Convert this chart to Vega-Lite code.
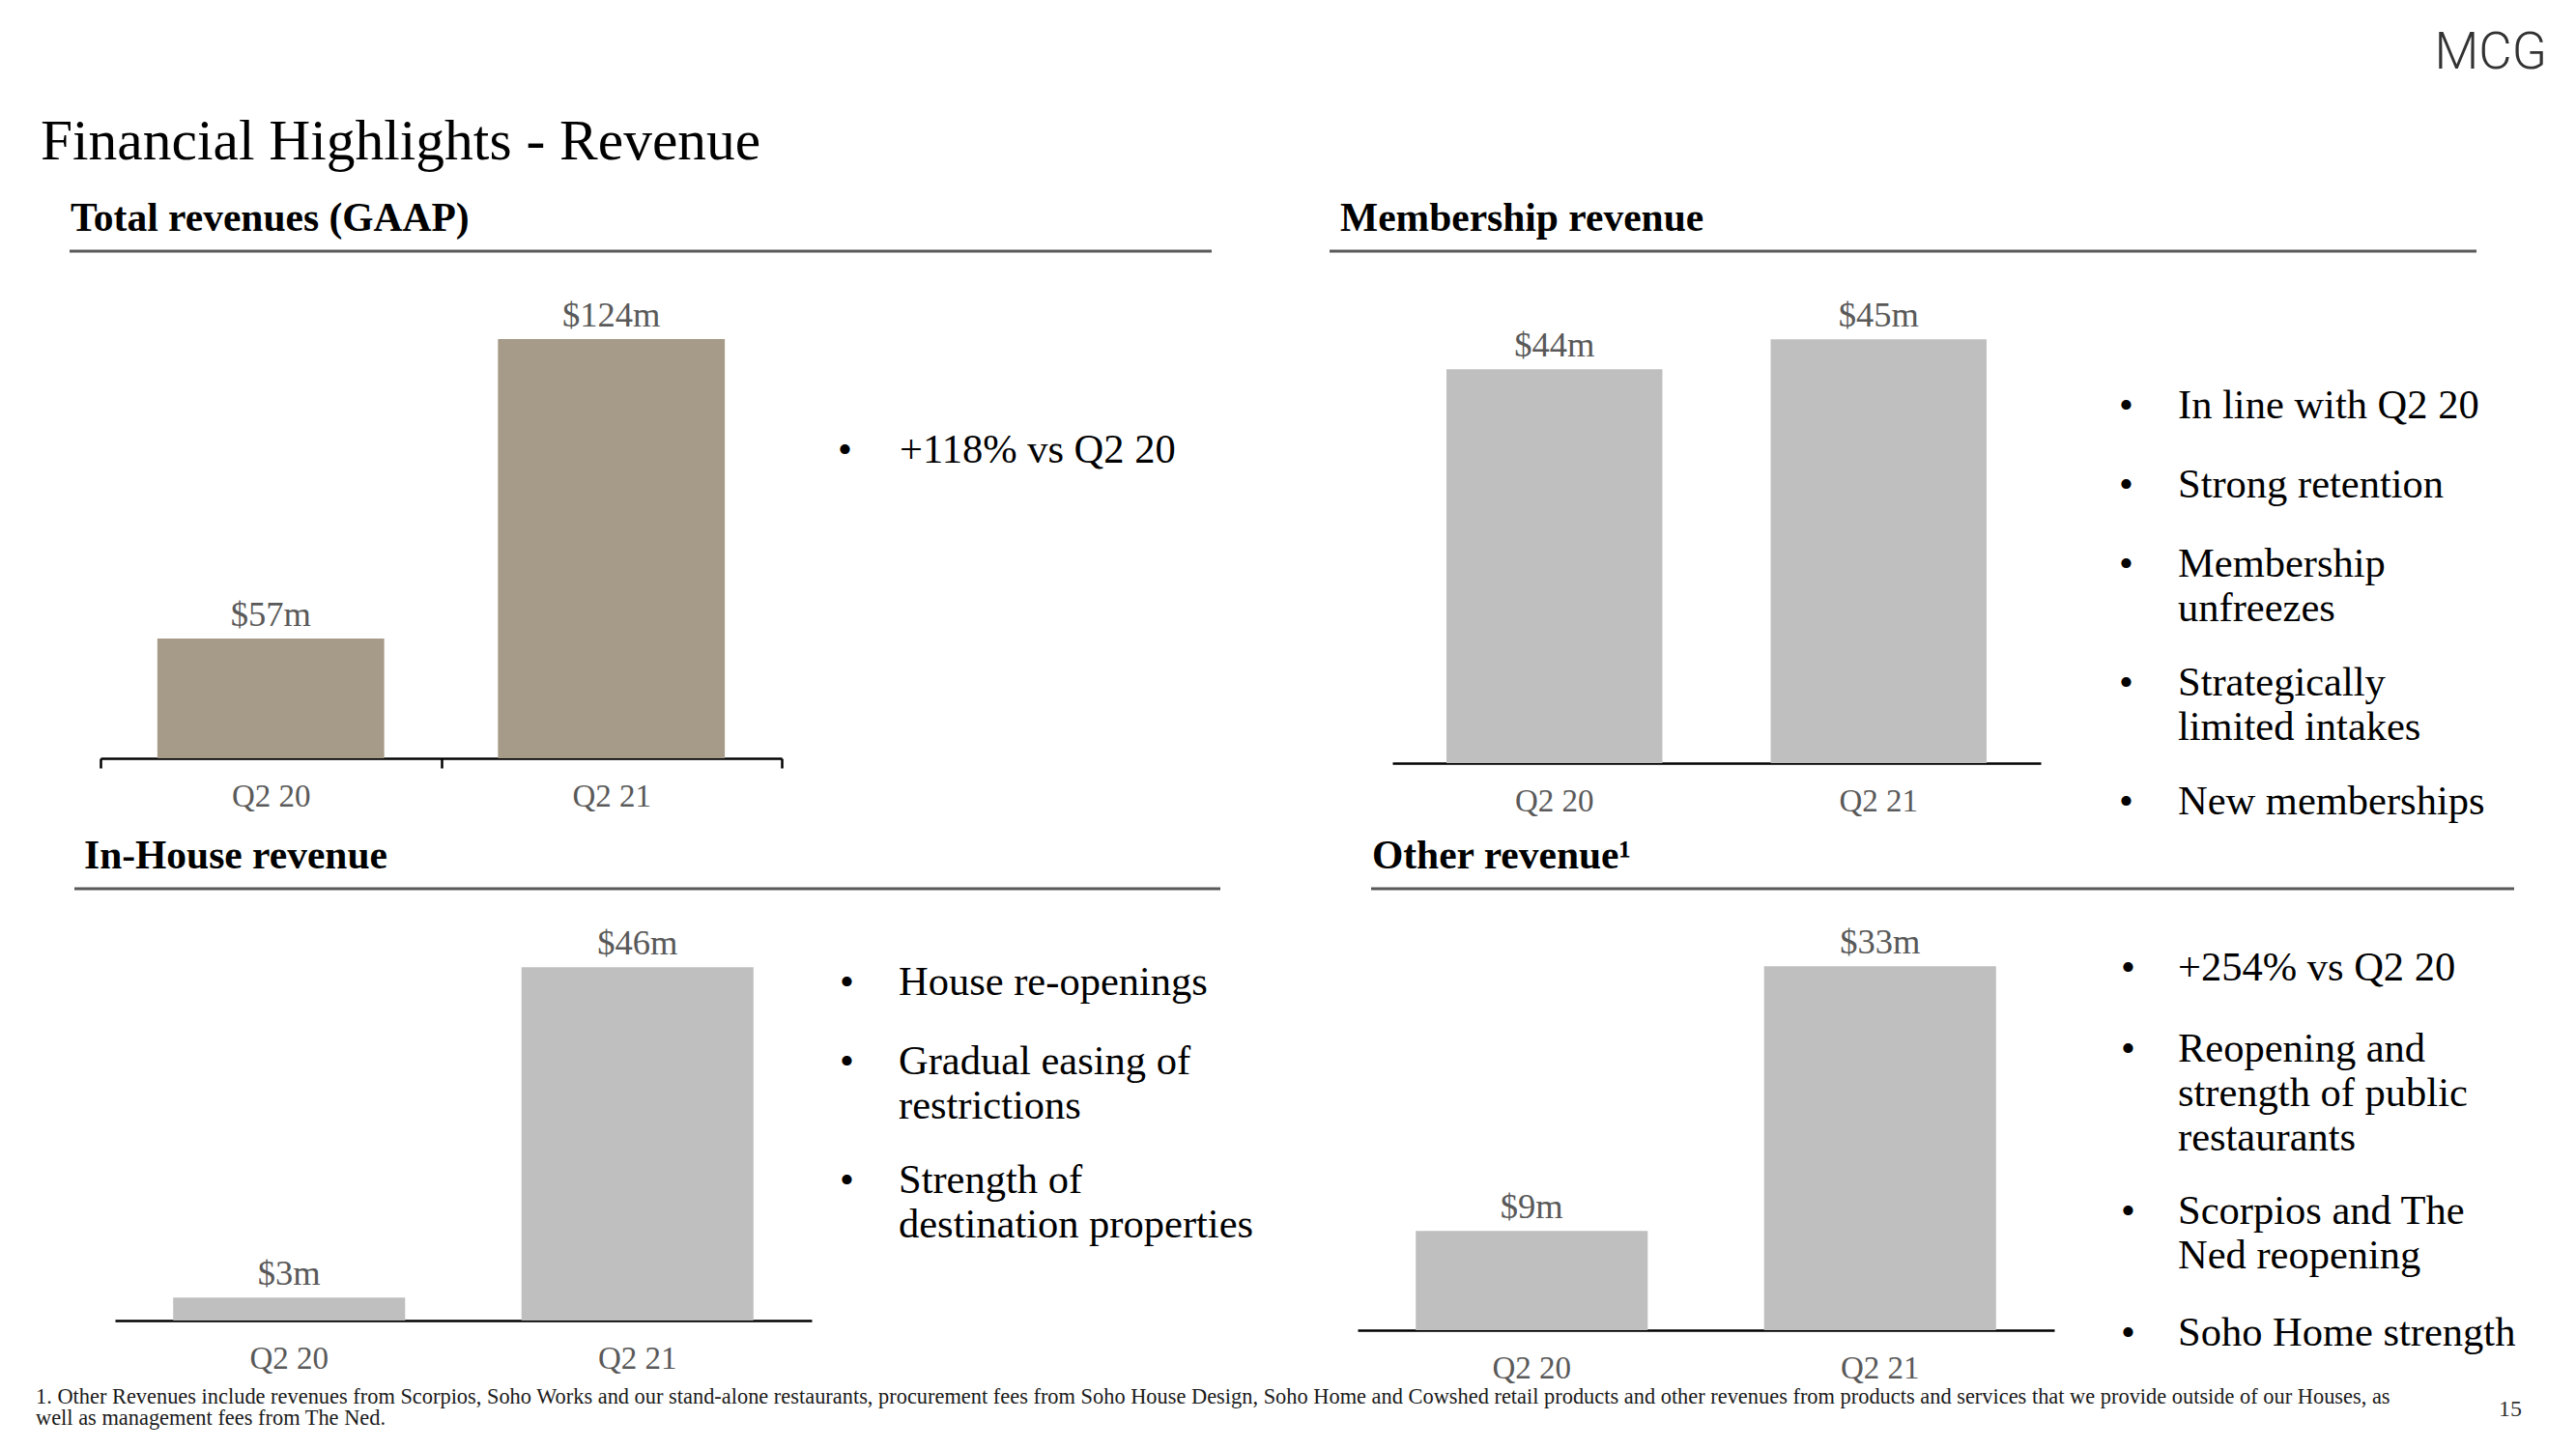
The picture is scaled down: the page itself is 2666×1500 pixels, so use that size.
{
  "$schema": "https://vega.github.io/schema/vega-lite/v6.json",
  "background": "white",
  "padding": {"top": 28.5, "left": 0, "right": 0, "bottom": 0},
  "spacing": 0,
  "config": {
    "view": {"stroke": "transparent"},
    "concat": {"spacing": 0},
    "axis": {"title": null, "grid": false, "labelAngle": 0, "labelFont": "Liberation Serif", "labelFontSize": 33, "labelColor": "#595959", "labelBaseline": "alphabetic", "domainColor": "black", "domainWidth": 2.5}
  },
  "datasets": {
    "total": [{"quarter": "Q2 20", "revenue": 57, "label": "$57m"}, {"quarter": "Q2 21", "revenue": 124, "label": "$124m"}],
    "membership": [{"quarter": "Q2 20", "revenue": 44, "label": "$44m"}, {"quarter": "Q2 21", "revenue": 45, "label": "$45m"}],
    "inhouse": [{"quarter": "Q2 20", "revenue": 3, "label": "$3m"}, {"quarter": "Q2 21", "revenue": 46, "label": "$46m"}],
    "other": [{"quarter": "Q2 20", "revenue": 9, "label": "$9m"}, {"quarter": "Q2 21", "revenue": 33, "label": "$33m"}],
    "notesA": [{"slot": "a1", "text": "+118% vs Q2 20", "bullet": "•"}],
    "notesB": [
      {"slot": "b1", "text": "In line with Q2 20", "bullet": "•"},
      {"slot": "b2", "text": "", "bullet": ""},
      {"slot": "b3", "text": "Strong retention", "bullet": "•"},
      {"slot": "b4", "text": "", "bullet": ""},
      {"slot": "b5", "text": "Membership\nunfreezes", "bullet": "•"},
      {"slot": "b6", "text": "", "bullet": ""},
      {"slot": "b7", "text": "", "bullet": ""},
      {"slot": "b8", "text": "Strategically\nlimited intakes", "bullet": "•"},
      {"slot": "b9", "text": "", "bullet": ""},
      {"slot": "b10", "text": "", "bullet": ""},
      {"slot": "b11", "text": "New memberships", "bullet": "•"}
    ],
    "notesC": [
      {"slot": "c1", "text": "House re-openings", "bullet": "•"},
      {"slot": "c2", "text": "", "bullet": ""},
      {"slot": "c3", "text": "Gradual easing of\nrestrictions", "bullet": "•"},
      {"slot": "c4", "text": "", "bullet": ""},
      {"slot": "c5", "text": "", "bullet": ""},
      {"slot": "c6", "text": "Strength of\ndestination properties", "bullet": "•"}
    ],
    "notesD": [
      {"slot": "d1", "text": "+254% vs Q2 20", "bullet": "•"},
      {"slot": "d2", "text": "", "bullet": ""},
      {"slot": "d3", "text": "Reopening and\nstrength of public\nrestaurants", "bullet": "•"},
      {"slot": "d4", "text": "", "bullet": ""},
      {"slot": "d5", "text": "", "bullet": ""},
      {"slot": "d6", "text": "", "bullet": ""},
      {"slot": "d7", "text": "Scorpios and The\nNed reopening", "bullet": "•"},
      {"slot": "d8", "text": "", "bullet": ""},
      {"slot": "d9", "text": "", "bullet": ""},
      {"slot": "d10", "text": "Soho Home strength", "bullet": "•"}
    ]
  },
  "vconcat": [
    {
      "bounds": "flush", "spacing": 0,
      "hconcat": [
        {"width": 73, "height": 1, "data": {"values": []}, "mark": "text", "encoding": {},
         "title": {"text": "Financial Highlights - Revenue", "anchor": "start", "frame": "group", "dx": 42, "offset": 35, "baseline": "alphabetic", "font": "Liberation Serif", "fontSize": 59.5, "fontWeight": "normal", "color": "black"}},
        {"width": 1180, "height": 1, "view": {"stroke": "#595959", "strokeWidth": 2}, "data": {"values": []}, "mark": "text", "encoding": {},
         "title": {"text": "Total revenues (GAAP)", "anchor": "start", "frame": "group", "dx": 0, "offset": -21, "baseline": "alphabetic", "font": "Liberation Serif", "fontSize": 41.5, "fontWeight": "bold", "color": "black"}},
        {"width": 124, "height": 1, "data": {"values": []}, "mark": "text", "encoding": {}},
        {"width": 1185, "height": 1, "view": {"stroke": "#595959", "strokeWidth": 2}, "data": {"values": []}, "mark": "text", "encoding": {},
         "title": {"text": "Membership revenue", "anchor": "start", "frame": "group", "dx": 10, "offset": -21, "baseline": "alphabetic", "font": "Liberation Serif", "fontSize": 41.5, "fontWeight": "bold", "color": "black"}},
        {"width": 104, "height": 1, "data": {"values": []}, "mark": "text", "encoding": {},
         "title": {"text": "MCG", "anchor": "end", "frame": "group", "dx": -30, "offset": 136, "baseline": "alphabetic", "font": "Roboto", "fontSize": 53, "fontWeight": 300, "color": "#333333"}}
      ]
    },
    {
      "bounds": "flush", "spacing": 0,
      "hconcat": [
        {"width": 104, "height": 522.5, "data": {"values": []}, "mark": "text", "encoding": {}},
        {
          "width": 705, "height": 522.5,
          "data": {"name": "total"},
          "encoding": {
            "x": {"field": "quarter", "type": "nominal", "sort": null, "scale": {"paddingInner": 0, "paddingOuter": 0},
                  "axis": {"ticks": true, "tickBand": "extent", "tickSize": 10, "tickColor": "black", "tickWidth": 2.5, "labelPadding": 39}},
            "y": {"field": "revenue", "type": "quantitative", "scale": {"domain": [30.2, 143.1], "zero": false, "nice": false}, "axis": null}
          },
          "layer": [
            {"mark": {"type": "bar", "color": "#A69A88", "width": {"band": 0.666}}, "encoding": {"y2": {"datum": 30.2}}},
            {"mark": {"type": "text", "baseline": "middle", "dy": -24, "font": "Liberation Serif", "fontSize": 36.5, "color": "#595959"}, "encoding": {"text": {"field": "label"}}}
          ]
        },
        {
          "width": 444, "height": 522.5,
          "data": {"name": "notesA"},
          "encoding": {"y": {"field": "slot", "type": "ordinal", "sort": null, "scale": {"type": "point", "padding": 0, "align": 0}, "axis": null}},
          "layer": [
            {"mark": {"type": "text", "align": "left", "baseline": "alphabetic", "dx": -100, "dy": 216.5, "font": "Liberation Serif", "fontSize": 42.5, "color": "black"}, "encoding": {"text": {"field": "text"}}},
            {"mark": {"type": "text", "align": "left", "baseline": "alphabetic", "dx": -164, "dy": 216.5, "font": "Liberation Serif", "fontSize": 42.5, "color": "black"}, "encoding": {"text": {"field": "bullet"}}}
          ]
        },
        {"width": 188, "height": 601.5, "data": {"values": []}, "mark": "text", "encoding": {}},
        {
          "width": 671, "height": 527.5,
          "data": {"name": "membership"},
          "encoding": {
            "x": {"field": "quarter", "type": "nominal", "sort": null, "scale": {"paddingInner": 0, "paddingOuter": 0},
                  "axis": {"ticks": false, "labelPadding": 49}},
            "y": {"field": "revenue", "type": "quantitative", "scale": {"domain": [30.84, 47.86], "zero": false, "nice": false}, "axis": null}
          },
          "layer": [
            {"mark": {"type": "bar", "color": "#BFBFBF", "width": {"band": 0.666}}, "encoding": {"y2": {"datum": 30.84}}},
            {"mark": {"type": "text", "baseline": "middle", "dy": -24, "font": "Liberation Serif", "fontSize": 36.5, "color": "#595959"}, "encoding": {"text": {"field": "label"}}}
          ]
        },
        {
          "width": 450, "height": 410,
          "data": {"name": "notesB"},
          "encoding": {"y": {"field": "slot", "type": "ordinal", "sort": null, "scale": {"type": "point", "padding": 0}, "axis": null}},
          "layer": [
            {"mark": {"type": "text", "align": "left", "baseline": "alphabetic", "dx": -83, "dy": 170.5, "font": "Liberation Serif", "fontSize": 42.5, "lineBreak": "\n", "lineHeight": 46, "color": "black"}, "encoding": {"text": {"field": "text"}}},
            {"mark": {"type": "text", "align": "left", "baseline": "alphabetic", "dx": -144, "dy": 170.5, "font": "Liberation Serif", "fontSize": 42.5, "color": "black"}, "encoding": {"text": {"field": "bullet"}}}
          ]
        }
      ]
    },
    {
      "bounds": "flush", "spacing": 0,
      "hconcat": [
        {"width": 78, "height": 1, "data": {"values": []}, "mark": "text", "encoding": {}},
        {"width": 1184, "height": 1, "view": {"stroke": "#595959", "strokeWidth": 2}, "data": {"values": []}, "mark": "text", "encoding": {},
         "title": {"text": "In-House revenue", "anchor": "start", "frame": "group", "dx": 9, "offset": -21, "baseline": "alphabetic", "font": "Liberation Serif", "fontSize": 41.5, "fontWeight": "bold", "color": "black"}},
        {"width": 158, "height": 1, "data": {"values": []}, "mark": "text", "encoding": {}},
        {"width": 1181, "height": 1, "view": {"stroke": "#595959", "strokeWidth": 2}, "data": {"values": []}, "mark": "text", "encoding": {},
         "title": {"text": "Other revenue¹", "anchor": "start", "frame": "group", "dx": 0, "offset": -21, "baseline": "alphabetic", "font": "Liberation Serif", "fontSize": 41.5, "fontWeight": "bold", "color": "black"}}
      ]
    },
    {
      "bounds": "flush", "spacing": 0,
      "hconcat": [
        {"width": 119, "height": 455, "data": {"values": []}, "mark": "text", "encoding": {},
         "title": {"text": ["1. Other Revenues include revenues from Scorpios, Soho Works and our stand-alone restaurants, procurement fees from Soho House Design, Soho Home and Cowshed retail products and other revenues from products and services that we provide outside of our Houses, as", "well as management fees from The Ned."], "orient": "bottom", "anchor": "start", "frame": "group", "dx": 37, "offset": 75, "baseline": "alphabetic", "lineHeight": 22, "font": "Liberation Serif", "fontSize": 22.4, "fontWeight": "normal", "color": "#1a1a1a"}},
        {
          "width": 721, "height": 444.5,
          "data": {"name": "inhouse"},
          "encoding": {
            "x": {"field": "quarter", "type": "nominal", "sort": null, "scale": {"paddingInner": 0, "paddingOuter": 0},
                  "axis": {"ticks": false, "labelPadding": 49}},
            "y": {"field": "revenue", "type": "quantitative", "scale": {"domain": [0, 55.9], "nice": false}, "axis": null}
          },
          "layer": [
            {"mark": {"type": "bar", "color": "#BFBFBF", "width": {"band": 0.666}}},
            {"mark": {"type": "text", "baseline": "middle", "dy": -24, "font": "Liberation Serif", "fontSize": 36.5, "color": "#595959"}, "encoding": {"text": {"field": "label"}}}
          ]
        },
        {
          "width": 422, "height": 205,
          "data": {"name": "notesC"},
          "encoding": {"y": {"field": "slot", "type": "ordinal", "sort": null, "scale": {"type": "point", "padding": 0}, "axis": null}},
          "layer": [
            {"mark": {"type": "text", "align": "left", "baseline": "alphabetic", "dx": -121, "dy": 107.5, "font": "Liberation Serif", "fontSize": 42.5, "lineBreak": "\n", "lineHeight": 46, "color": "black"}, "encoding": {"text": {"field": "text"}}},
            {"mark": {"type": "text", "align": "left", "baseline": "alphabetic", "dx": -182, "dy": 107.5, "font": "Liberation Serif", "fontSize": 42.5, "color": "black"}, "encoding": {"text": {"field": "bullet"}}}
          ]
        },
        {"width": 143, "height": 455, "data": {"values": []}, "mark": "text", "encoding": {}},
        {
          "width": 721, "height": 454.5,
          "data": {"name": "other"},
          "encoding": {
            "x": {"field": "quarter", "type": "nominal", "sort": null, "scale": {"paddingInner": 0, "paddingOuter": 0},
                  "axis": {"ticks": false, "labelPadding": 49}},
            "y": {"field": "revenue", "type": "quantitative", "scale": {"domain": [0, 39.8], "nice": false}, "axis": null}
          },
          "layer": [
            {"mark": {"type": "bar", "color": "#BFBFBF", "width": {"band": 0.666}}},
            {"mark": {"type": "text", "baseline": "middle", "dy": -24, "font": "Liberation Serif", "fontSize": 36.5, "color": "#595959"}, "encoding": {"text": {"field": "label"}}}
          ]
        },
        {
          "width": 475, "height": 378,
          "data": {"name": "notesD"},
          "encoding": {"y": {"field": "slot", "type": "ordinal", "sort": null, "scale": {"type": "point", "padding": 0}, "axis": null}},
          "layer": [
            {"mark": {"type": "text", "align": "left", "baseline": "alphabetic", "dx": -109.5, "dy": 92.5, "font": "Liberation Serif", "fontSize": 42.5, "lineBreak": "\n", "lineHeight": 46, "color": "black"}, "encoding": {"text": {"field": "text"}}},
            {"mark": {"type": "text", "align": "left", "baseline": "alphabetic", "dx": -168.5, "dy": 92.5, "font": "Liberation Serif", "fontSize": 42.5, "color": "black"}, "encoding": {"text": {"field": "bullet"}}}
          ]
        },
        {"width": 65, "height": 455, "data": {"values": []}, "mark": "text", "encoding": {},
         "title": {"text": "15", "orient": "bottom", "anchor": "end", "frame": "group", "dx": -56, "offset": 88, "baseline": "alphabetic", "font": "Liberation Serif", "fontSize": 24, "fontWeight": "normal", "color": "#333333"}}
      ]
    }
  ]
}
